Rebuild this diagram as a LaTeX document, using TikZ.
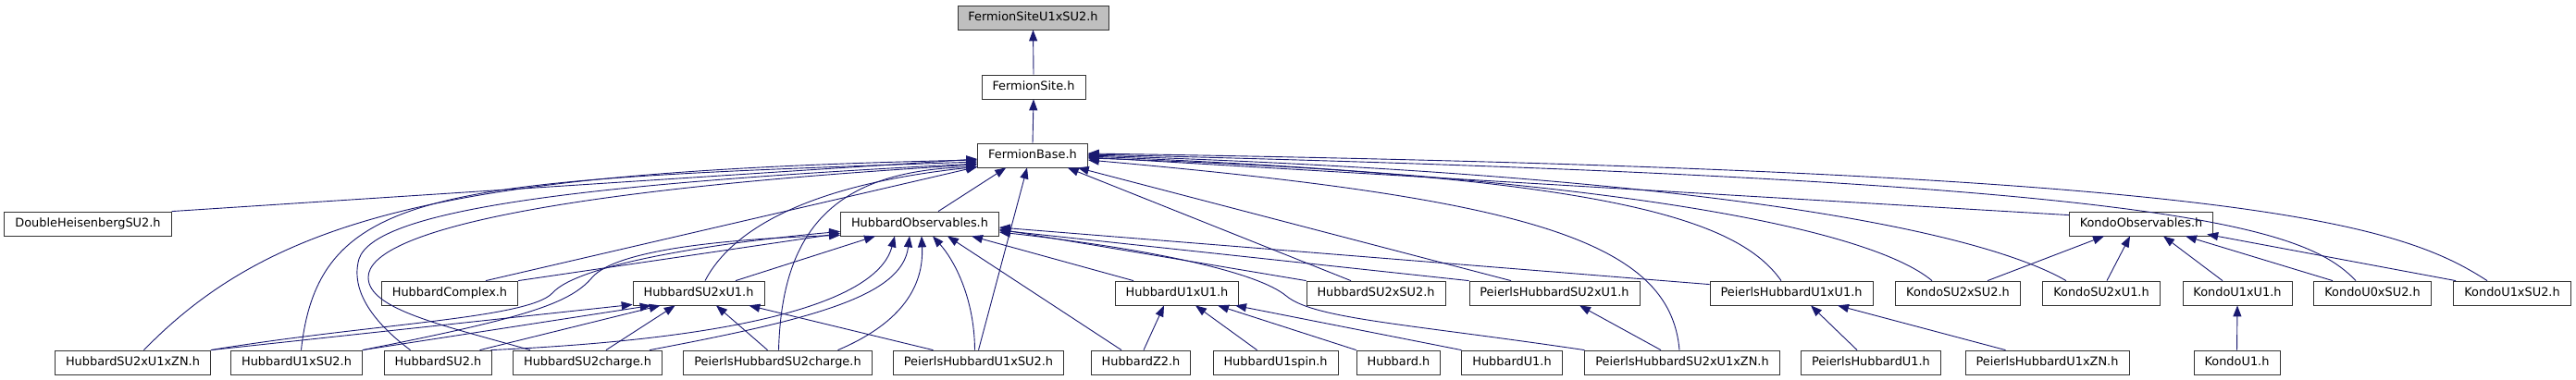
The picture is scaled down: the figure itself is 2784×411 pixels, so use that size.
\documentclass[tikz,border=0pt]{standalone}
\usepackage{fontspec}
\newfontfamily\dvfont{DejaVu Sans}
\usetikzlibrary{arrows.meta,calc}
\definecolor{edgeblue}{HTML}{191970}
\definecolor{rootgrey}{HTML}{BFBFBF}
\begin{document}
\begin{tikzpicture}[x=1pt,y=-1pt,
  box/.style={draw=black!80,line width=0.8pt,fill=white,
    font=\dvfont\fontsize{12.9pt}{15pt}\selectfont,
    inner xsep=11.5pt,inner ysep=0pt,minimum height=26pt,
    text height=9.5pt,text depth=2.5pt},
  edge/.style={draw=edgeblue,line width=0.9pt,-{Triangle[length=12pt,width=9pt]}}]
\useasboundingbox (0,0) rectangle (2784,411);
% row 1-3
\node[box,fill=rootgrey] (FSU) at (1116.5,19) {FermionSiteU1xSU2.h};
\node[box] (FS) at (1117,94) {FermionSite.h};
\node[box] (FB) at (1116,168) {FermionBase.h};
% row 4
\node[box] (DH) at (95,242) {DoubleHeisenbergSU2.h};
\node[box] (HO) at (994,242) {HubbardObservables.h};
\node[box] (KO) at (2314,242) {KondoObservables.h};
% row 5
\node[box] (HC) at (486,317) {HubbardComplex.h};
\node[box] (HSU) at (755,317) {HubbardSU2xU1.h};
\node[box] (HUU) at (1272,317) {HubbardU1xU1.h};
\node[box] (HSS) at (1487,317) {HubbardSU2xSU2.h};
\node[box] (PHSU) at (1680,317) {PeierlsHubbardSU2xU1.h};
\node[box] (PHUU) at (1936,317) {PeierlsHubbardU1xU1.h};
\node[box] (KSS) at (2116,317) {KondoSU2xSU2.h};
\node[box] (KSU) at (2271,317) {KondoSU2xU1.h};
\node[box] (KUU) at (2418,317) {KondoU1xU1.h};
\node[box] (K0) at (2564,317) {KondoU0xSU2.h};
\node[box] (KUS) at (2715,317) {KondoU1xSU2.h};
% row 6
\node[box] (HSUZ) at (143.5,392) {HubbardSU2xU1xZN.h};
\node[box] (HUS) at (320.5,392) {HubbardU1xSU2.h};
\node[box] (HS) at (473.5,392) {HubbardSU2.h};
\node[box] (HSc) at (635,392) {HubbardSU2charge.h};
\node[box] (PHSc) at (840.5,392) {PeierlsHubbardSU2charge.h};
\node[box] (PHUS) at (1057.5,392) {PeierlsHubbardU1xSU2.h};
\node[box] (HZ2) at (1233,392) {HubbardZ2.h};
\node[box] (HU1s) at (1378.5,392) {HubbardU1spin.h};
\node[box] (Hub) at (1511.5,392) {Hubbard.h};
\node[box] (HU1) at (1634,392) {HubbardU1.h};
\node[box] (PHSUZ) at (1818,392) {PeierlsHubbardSU2xU1xZN.h};
\node[box] (PU1) at (2022,392) {PeierlsHubbardU1.h};
\node[box] (PU1ZN) at (2212.5,392) {PeierlsHubbardU1xZN.h};
\node[box] (KU1) at (2417.5,392) {KondoU1.h};

% chain
\draw[edge] (FS.north) -- (FSU.south);
\draw[edge] (FB.north) -- (FS.south);

% into FermionBase from the left
\draw[edge] (DH.north east) -- ($(FB.west)+(0,4)$);
\draw[edge] ($(HSUZ.north)+(12,0)$) .. controls (300,230) and (500,185) .. ($(FB.west)+(0,5)$);
\draw[edge] ($(HUS.north)+(5,0)$) .. controls (345,200) and (480,195) .. ($(FB.west)+(0,7)$);
\draw[edge] ($(HS.north)+(-30,0)$) .. controls (405,350) and (378,315) .. (388,280) .. controls (405,230) and (600,200) .. ($(FB.west)+(0,9)$);
\draw[edge] ($(HSc.north)+(-62,0)$) .. controls (480,352) and (398,335) .. (398,300) .. controls (398,250) and (600,205) .. ($(FB.west)+(0,10)$);
\draw[edge] ($(HC.north)+(39,0)$) -- ($(FB.south west)+(0,-1)$);
\draw[edge] ($(HSU.north)+(7,0)$) .. controls (790,250) and (870,200) .. ($(FB.south west)+(0,-1)$);
\draw[edge] ($(PHSc.north)+(1,0)$) .. controls (845,250) and (900,185) .. ($(FB.south west)+(0,-1)$);
\draw[edge] (PHUS.north) -- ($(FB.south)+(-6,0)$);
\draw[edge] ($(HO.north)+(20,0)$) -- ($(FB.south west)+(31,0)$);

% into FermionBase from the right
\draw[edge] ($(HSS.north)+(-27,0)$) -- ($(FB.south east)+(-22,0)$);
\draw[edge] ($(PHSU.north)+(-47,0)$) -- ($(FB.south east)+(-11,0)$);
\draw[edge] ($(KO.north west)+(0,4)$) -- ($(FB.east)+(0,2)$);
\draw[edge] ($(PHUU.north)+(-11,0)$) .. controls (1880,240) and (1750,190) .. ($(FB.east)+(0,3)$);
\draw[edge] ($(PHSUZ.north)+(-3,0)$) .. controls (1805,260) and (1650,215) .. ($(FB.east)+(0,5)$);
\draw[edge] ($(KSS.north)+(-28,0)$) .. controls (2030,255) and (1800,195) .. ($(FB.east)+(0,1)$);
\draw[edge] ($(KSU.north)+(-38,0)$) .. controls (2140,250) and (1850,190) .. (FB.east);
\draw[edge] ($(K0.north)+(-18,0)$) .. controls (2490,245) and (2350,195) .. ($(FB.east)+(0,-1)$);
\draw[edge] ($(KUS.north)+(-27,0)$) .. controls (2590,240) and (2420,185) .. ($(FB.east)+(0,-2)$);

% into HubbardObservables
\draw[edge] (HC.north east) -- ($(HO.south west)+(0,-3)$);
\draw[edge] (HSUZ.north east) .. controls (400,350) and (570,345) .. (597,317) .. controls (625,285) and (780,262) .. ($(HO.south west)+(0,-5)$);
\draw[edge] (HUS.north east) .. controls (560,345) and (615,330) .. (640,300) .. controls (668,268) and (800,258) .. ($(HO.south west)+(0,-1)$);
\draw[edge] ($(HSU.north)+(40,0)$) -- ($(HO.south)+(-48,0)$);
\draw[edge] ($(HS.north)+(57,0)$) .. controls (830,365) and (950,320) .. ($(HO.south)+(-27,0)$);
\draw[edge] ($(HSc.north)+(67,0)$) .. controls (880,345) and (975,320) .. ($(HO.south)+(-11,0)$);
\draw[edge] ($(PHSc.north)+(65,0)$) .. controls (985,345) and (998,300) .. ($(HO.south)+(2,0)$);
\draw[edge] ($(PHUS.north)+(-4,0)$) .. controls (1053,320) and (1030,280) .. ($(HO.south)+(14,0)$);
\draw[edge] ($(HZ2.north)+(-21,0)$) -- ($(HO.south)+(30,0)$);
\draw[edge] ($(HUU.north)+(-47,0)$) -- ($(HO.south)+(56,0)$);
\draw[edge] (HSS.north west) -- ($(HO.east)+(0,6)$);
\draw[edge] (PHSU.north west) -- ($(HO.east)+(0,7)$);
\draw[edge] ($(PHUU.north west)+(0,4)$) -- ($(HO.east)+(0,4)$);
\draw[edge] (PHSUZ.north west) .. controls (1520,350) and (1420,345) .. (1390,320) .. controls (1360,295) and (1250,270) .. ($(HO.east)+(0,9)$);

% into HubbardSU2xU1
\draw[edge] (HSUZ.north east) -- ($(HSU.south west)+(0,-1)$);
\draw[edge] (HUS.north east) -- ($(HSU.south west)+(20,0)$);
\draw[edge] ($(HS.north)+(45,0)$) -- ($(HSU.south west)+(30,0)$);
\draw[edge] ($(HSc.north)+(20,0)$) -- ($(HSU.south west)+(46,0)$);
\draw[edge] ($(PHSc.north)+(-11,0)$) -- ($(HSU.south)+(19,0)$);
\draw[edge] ($(PHUS.north)+(-49,0)$) -- ($(HSU.south east)+(-17,0)$);

% into HubbardU1xU1
\draw[edge] ($(HZ2.north)+(3,0)$) -- ($(HUU.south)+(-14,0)$);
\draw[edge] ($(HU1s.north)+(-20,0)$) -- ($(HUU.south)+(20,0)$);
\draw[edge] (Hub.north west) -- ($(HUU.south)+(44,0)$);
\draw[edge] (HU1.north west) -- ($(HUU.south)+(63,0)$);

% Peierls
\draw[edge] ($(PHSUZ.north)+(-23,0)$) -- ($(PHSU.south)+(27,0)$);
\draw[edge] ($(PU1.north)+(-15,0)$) -- ($(PHUU.south)+(21,0)$);
\draw[edge] ($(PU1ZN.north)+(-45,0)$) -- ($(PHUU.south)+(50,0)$);

% Kondo
\draw[edge] ($(KSS.north)+(32,0)$) -- ($(KO.south)+(-40,0)$);
\draw[edge] ($(KSU.north)+(6,0)$) -- ($(KO.south)+(-12,0)$);
\draw[edge] ($(KUU.north)+(-16,0)$) -- ($(KO.south)+(24,0)$);
\draw[edge] ($(K0.north)+(-43,0)$) -- ($(KO.south)+(48,0)$);
\draw[edge] ($(KUS.north)+(-61,0)$) -- ($(KO.south east)+(-7,-2)$);
\draw[edge] (KU1.north) -- (KUU.south);
\end{tikzpicture}
\end{document}
